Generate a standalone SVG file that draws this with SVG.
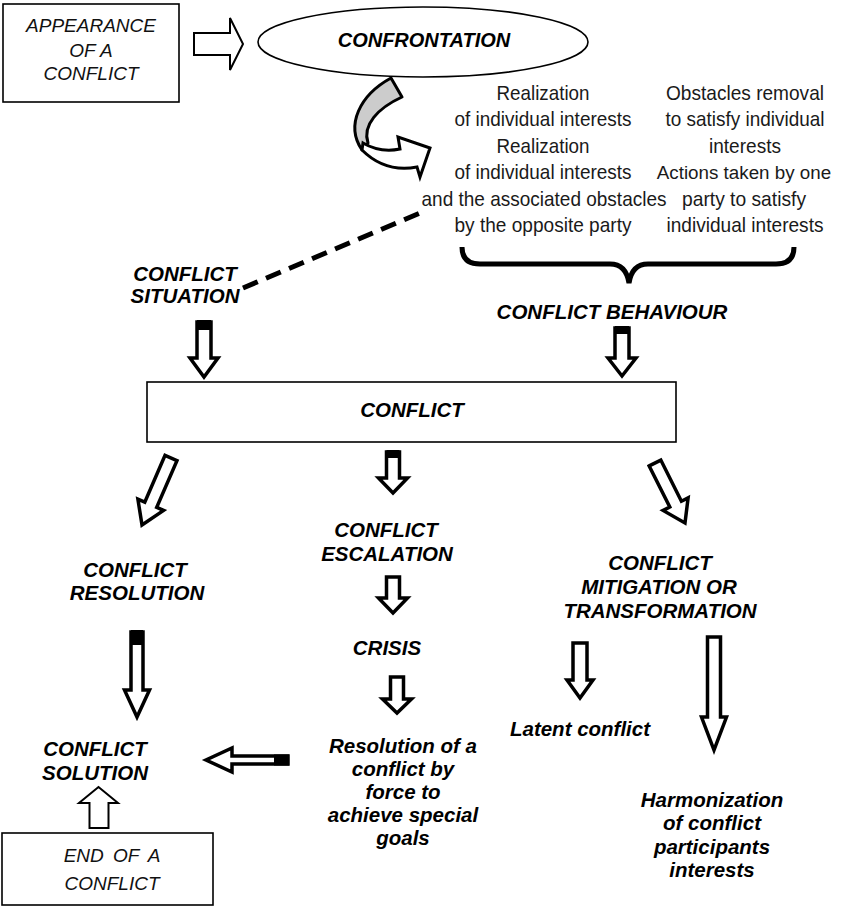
<svg xmlns="http://www.w3.org/2000/svg" width="844" height="912" viewBox="0 0 844 912">
<style>
.bi{font-family:"Liberation Sans",Arial,sans-serif;font-weight:bold;font-style:italic;font-size:20.5px;fill:#000;text-anchor:middle}
.ri{font-family:"Liberation Sans",Arial,sans-serif;font-style:italic;font-size:19px;fill:#111;text-anchor:middle}
.rg{font-family:"Liberation Sans",Arial,sans-serif;font-size:21px;fill:#1a1a1a;text-anchor:middle}
.box{fill:#fff;stroke:#000;stroke-width:1.6}
.arr{fill:#fff;stroke:#000;stroke-width:3.5;stroke-linejoin:miter}
.arrt{fill:#fff;stroke:#000;stroke-width:2;stroke-linejoin:miter}
.blk{fill:#000}
</style>
<rect width="844" height="912" fill="#fff"/>

<g id="appearance">
<rect class="box" x="3" y="4" width="176" height="98"/>
<text class="ri" x="91" y="32">APPEARANCE</text>
<text class="ri" x="91" y="57">OF A</text>
<text class="ri" x="91" y="80">CONFLICT</text>
</g>

<g id="confrontation">
<ellipse cx="423" cy="42" rx="165" ry="35" fill="#fff" stroke="#000" stroke-width="1.6"/>
<text class="bi" x="424" y="47" style="font-size:20px">CONFRONTATION</text>
</g>

<g id="behaviour-texts">
<text class="rg" x="543" y="100" textLength="93" lengthAdjust="spacingAndGlyphs">Realization</text>
<text class="rg" x="543" y="126" textLength="177" lengthAdjust="spacingAndGlyphs">of individual interests</text>
<text class="rg" x="543" y="152.5" textLength="93" lengthAdjust="spacingAndGlyphs">Realization</text>
<text class="rg" x="543" y="179" textLength="177" lengthAdjust="spacingAndGlyphs">of individual interests</text>
<text class="rg" x="544" y="205.5" textLength="245" lengthAdjust="spacingAndGlyphs">and the associated obstacles</text>
<text class="rg" x="543" y="232" textLength="177" lengthAdjust="spacingAndGlyphs">by the opposite party</text>
<text class="rg" x="745" y="100" textLength="158" lengthAdjust="spacingAndGlyphs">Obstacles removal</text>
<text class="rg" x="745" y="126" textLength="159" lengthAdjust="spacingAndGlyphs">to satisfy individual</text>
<text class="rg" x="745" y="152.5" textLength="72" lengthAdjust="spacingAndGlyphs">interests</text>
<text class="rg" x="744" y="179" style="font-size:18.8px">Actions taken by one</text>
<text class="rg" x="744" y="205.5" textLength="124" lengthAdjust="spacingAndGlyphs">party to satisfy</text>
<text class="rg" x="745" y="232" textLength="157" lengthAdjust="spacingAndGlyphs">individual interests</text>
</g>

<g id="situation">
<text class="bi" x="185" y="281">CONFLICT</text>
<text class="bi" x="185" y="303">SITUATION</text>
</g>

<g id="behaviour">
<text class="bi" x="612" y="319">CONFLICT BEHAVIOUR</text>
</g>

<g id="conflict">
<rect class="box" x="147" y="382" width="529" height="60" stroke-width="2"/>
<text class="bi" x="412" y="417">CONFLICT</text>
</g>

<g id="resolution">
<text class="bi" x="135" y="577">CONFLICT</text>
<text class="bi" x="137" y="600">RESOLUTION</text>
</g>

<g id="escalation">
<text class="bi" x="386" y="537">CONFLICT</text>
<text class="bi" x="387" y="561">ESCALATION</text>
</g>

<g id="mitigation">
<text class="bi" x="660" y="570">CONFLICT</text>
<text class="bi" x="659" y="594">MITIGATION OR</text>
<text class="bi" x="660" y="618">TRANSFORMATION</text>
</g>

<g id="crisis">
<text class="bi" x="387" y="655">CRISIS</text>
</g>

<g id="force">
<text class="bi" x="403" y="753">Resolution of a</text>
<text class="bi" x="403" y="776">conflict by</text>
<text class="bi" x="403" y="799">force to</text>
<text class="bi" x="403" y="822">achieve special</text>
<text class="bi" x="403" y="845">goals</text>
</g>

<g id="latent">
<text class="bi" x="580" y="736">Latent conflict</text>
</g>

<g id="harmonization">
<text class="bi" x="712" y="807">Harmonization</text>
<text class="bi" x="712" y="830">of conflict</text>
<text class="bi" x="712" y="854">participants</text>
<text class="bi" x="712" y="877">interests</text>
</g>

<g id="solution">
<text class="bi" x="95" y="756">CONFLICT</text>
<text class="bi" x="95" y="780">SOLUTION</text>
</g>

<g id="end">
<rect class="box" x="2" y="833" width="211" height="72"/>
<text class="ri" x="112" y="862" word-spacing="4">END OF A</text>
<text class="ri" x="112" y="890">CONFLICT</text>
</g>

<g id="connectors">
<polygon class="arrt" points="194,33 230,33 230,18 243,44 230,70 230,55 194,55"/>
<path d="M391,78 C360,95 345,125 362,150 L368,143 C362,125 378,108 402,97 Z" fill="#ccc" stroke="#000" stroke-width="3" stroke-linejoin="round"/>
<path d="M363,143 Q380,153 400,149 L398,137 L430,148 L420,177 L417,167 Q385,173 362,150 Z" fill="#fff" stroke="#000" stroke-width="3" stroke-linejoin="miter"/>
<line x1="243" y1="288" x2="420" y2="213" stroke="#000" stroke-width="5" stroke-dasharray="16 9"/>
<path d="M462,247 Q462,264 480,264 L610,264 Q626,264 629,283 Q632,264 648,264 L776,264 Q794,264 794,247" fill="none" stroke="#000" stroke-width="5"/>
<polygon class="arr" points="197,322 211,322 211,358 218,358 204,377 190,358 197,358"/>
<rect class="blk" x="197" y="320" width="14" height="10"/>
<polygon class="arr" points="615,328 629,328 629,358 636,358 622,376 608,358 615,358"/>
<rect class="blk" x="615" y="326" width="14" height="8"/>
<polygon class="arr" points="-6.5,0 6.5,0 6.5,51 14,51 0,73 -14,51 -6.5,51" transform="translate(171,458) rotate(23.4)"/>
<polygon class="arr" points="386.5,452 399.5,452 399.5,478 407.5,478 393,493 378.5,478 386.5,478"/>
<rect class="blk" x="386.5" y="450" width="13" height="8"/>
<polygon class="arr" points="-6.5,0 6.5,0 6.5,46 14,46 0,67 -14,46 -6.5,46" transform="translate(655,463) rotate(-26.6)"/>
<polygon class="arr" points="386.5,577 399.5,577 399.5,598 407.5,598 393,613 378.5,598 386.5,598"/>
<polygon class="arr" points="390.5,677 403.5,677 403.5,699 411.5,699 397,713 382.5,699 390.5,699"/>
<polygon class="arr" points="131,632 143,632 143,690 149.5,690 137,717 124.5,690 131,690"/>
<rect class="blk" x="131" y="630" width="12" height="15"/>
<polygon class="arr" points="288,756 232,756 232,748 206,760 232,772 232,764 288,764"/>
<rect class="blk" x="274" y="754.5" width="15" height="11"/>
<polygon class="arrt" points="89.5,828 108.5,828 108.5,803 118,803 98.5,787 79,803 89.5,803"/>
<polygon class="arr" points="573,643 587,643 587,680 593,680 580,698 567,680 573,680"/>
<polygon class="arr" points="707.5,637 720.5,637 720.5,717 726.5,717 714,750 701.5,717 707.5,717"/>
</g>
</svg>
